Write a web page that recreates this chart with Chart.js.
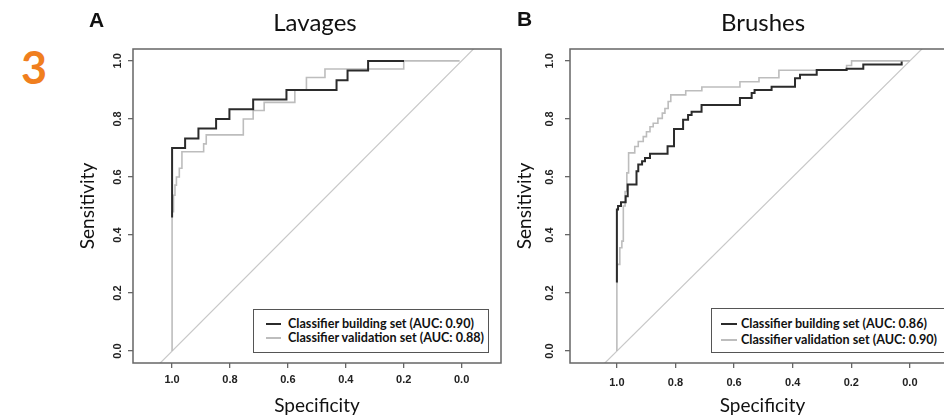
<!DOCTYPE html>
<html>
<head>
<meta charset="utf-8">
<script src="https://cdn.jsdelivr.net/npm/chart.js@4.4.1/dist/chart.umd.min.js"></script>
<style>
  body { margin: 0; width: 944px; height: 417px; overflow: hidden; background: #fff; position: relative; font-family: Lato, sans-serif; }
  canvas { position: absolute; top: 0; }
  .txt { position: absolute; white-space: nowrap; }
  .legend { position: absolute; box-sizing: border-box; border: 1.5px solid #555; background: #fff; }
  .row { position: absolute; height: 16px; line-height: 16px; font: 700 12.6px Lato, sans-serif; color: #111; white-space: nowrap; }
  .swatch { position: absolute; height: 2px; }
</style>
</head>
<body>
<div class="txt" style="left:21px;top:45px;font:700 45px/45px Lato;color:#f07f1e;">3</div>
<canvas id="chartA" width="510" height="417" style="left:0"></canvas>
<canvas id="chartB" width="525" height="417" style="left:440px"></canvas>
<script>
// panel labels and legend text
const panelTitles = ['Lavages', 'Brushes'];
const panelLetters = ['A', 'B'];
const seriesNames = ['Classifier building set', 'Classifier validation set'];
const aucLavages = [0.90, 0.88];
const aucBrushes = [0.86, 0.90];

// axis ticks
const xTicks = [1.0, 0.8, 0.6, 0.4, 0.2, 0.0];
const yTicks = [0.0, 0.2, 0.4, 0.6, 0.8, 1.0];

// chance diagonal (clipped by the plot area)
const chanceSpec = [1.3, -0.3];
const chanceSens = [-0.3, 1.3];

// Lavages ROC curves (specificity, sensitivity)
const lavBuildSpec = [1.0, 1.0, 0.955, 0.955, 0.909, 0.909, 0.848, 0.848, 0.802, 0.802, 0.72, 0.72, 0.605, 0.605, 0.432, 0.432, 0.394, 0.394, 0.323, 0.323, 0.199];
const lavBuildSens = [0.46, 0.70, 0.70, 0.733, 0.733, 0.767, 0.767, 0.80, 0.80, 0.833, 0.833, 0.867, 0.867, 0.90, 0.90, 0.933, 0.933, 0.967, 0.967, 1.0, 1.0];
const lavValidSpec = [1.0, 1.0, 0.995, 0.995, 0.99, 0.99, 0.985, 0.985, 0.975, 0.975, 0.966, 0.966, 0.891, 0.891, 0.882, 0.882, 0.754, 0.754, 0.72, 0.72, 0.682, 0.682, 0.576, 0.576, 0.536, 0.536, 0.472, 0.472, 0.20, 0.20, 0.007];
const lavValidSens = [0.0, 0.48, 0.48, 0.537, 0.537, 0.572, 0.572, 0.60, 0.60, 0.63, 0.63, 0.687, 0.687, 0.714, 0.714, 0.745, 0.745, 0.80, 0.80, 0.829, 0.829, 0.857, 0.857, 0.90, 0.90, 0.943, 0.943, 0.972, 0.972, 1.0, 1.0];

// Brushes ROC curves
const bruBuildSpec = [1.0, 1.0, 0.996, 0.996, 0.986, 0.986, 0.97, 0.97, 0.963, 0.963, 0.933, 0.933, 0.927, 0.927, 0.914, 0.914, 0.904, 0.904, 0.887, 0.887, 0.827, 0.827, 0.805, 0.805, 0.774, 0.774, 0.757, 0.757, 0.745, 0.745, 0.711, 0.711, 0.58, 0.58, 0.54, 0.54, 0.53, 0.53, 0.472, 0.472, 0.392, 0.392, 0.375, 0.375, 0.318, 0.318, 0.216, 0.216, 0.159, 0.159, 0.028, 0.028];
const bruBuildSens = [0.236, 0.488, 0.488, 0.50, 0.50, 0.513, 0.513, 0.534, 0.534, 0.574, 0.574, 0.62, 0.62, 0.643, 0.643, 0.654, 0.654, 0.665, 0.665, 0.68, 0.68, 0.706, 0.706, 0.765, 0.765, 0.797, 0.797, 0.814, 0.814, 0.825, 0.825, 0.848, 0.848, 0.872, 0.872, 0.889, 0.889, 0.90, 0.90, 0.911, 0.911, 0.94, 0.94, 0.952, 0.952, 0.969, 0.969, 0.973, 0.973, 0.988, 0.988, 0.998];
const bruValidSpec = [1.0, 1.0, 0.999, 0.999, 0.99, 0.99, 0.983, 0.983, 0.978, 0.978, 0.972, 0.972, 0.966, 0.966, 0.96, 0.96, 0.939, 0.939, 0.927, 0.927, 0.91, 0.91, 0.899, 0.899, 0.887, 0.887, 0.876, 0.876, 0.86, 0.86, 0.845, 0.845, 0.836, 0.836, 0.825, 0.825, 0.816, 0.816, 0.765, 0.765, 0.71, 0.71, 0.58, 0.58, 0.515, 0.515, 0.447, 0.447, 0.216, 0.216, 0.199, 0.199, 0.0];
const bruValidSens = [0.0, 0.236, 0.236, 0.299, 0.299, 0.356, 0.356, 0.379, 0.379, 0.50, 0.50, 0.55, 0.55, 0.614, 0.614, 0.683, 0.683, 0.705, 0.705, 0.722, 0.722, 0.739, 0.739, 0.756, 0.756, 0.773, 0.773, 0.785, 0.785, 0.802, 0.802, 0.82, 0.82, 0.836, 0.836, 0.86, 0.86, 0.883, 0.883, 0.897, 0.897, 0.91, 0.91, 0.928, 0.928, 0.942, 0.942, 0.968, 0.968, 0.984, 0.984, 1.0, 1.0];

const darkCol = '#2b2b2b';
const lightCol = '#bdbdbd';
const chanceCol = '#c8c8c8';
const frameCol = '#666';

function toPoints(xs, ys) {
    return xs.map((x, i) => ({ x: x, y: ys[i] }));
}

// draws the full box round the plot area, like R's box()
const framePlugin = {
    id: 'frame',
    afterDraw(chart) {
        const a = chart.chartArea;
        const ctx = chart.ctx;
        ctx.save();
        ctx.strokeStyle = frameCol;
        ctx.lineWidth = 1.5;
        ctx.strokeRect(a.left, a.top, a.right - a.left, a.bottom - a.top);
        ctx.restore();
    }
};

const tickFont = { family: '"Liberation Sans", Arial, sans-serif', weight: 'bold', size: 11 };

function makePanel(canvasId, p, build, valid) {
    const ctx = document.getElementById(canvasId).getContext('2d');
    return new Chart(ctx, {
        type: 'line',
        data: {
            datasets: [
                { label: seriesNames[0], data: toPoints(build[0], build[1]), borderColor: darkCol, borderWidth: 2 },
                { label: seriesNames[1], data: toPoints(valid[0], valid[1]), borderColor: lightCol, borderWidth: 1.6 },
                { label: 'chance', data: toPoints(chanceSpec, chanceSens), borderColor: chanceCol, borderWidth: 1.2 }
            ]
        },
        options: {
            responsive: false,
            animation: false,
            elements: { point: { radius: 0 }, line: { tension: 0 } },
            layout: { padding: { top: 49, right: p.rightPad, left: 0, bottom: 0 } },
            plugins: { legend: { display: false }, tooltip: { enabled: false } },
            scales: {
                x: {
                    type: 'linear', reverse: true, min: p.xMin, max: p.xMax,
                    afterBuildTicks: s => { s.ticks = xTicks.map(v => ({ value: v })); },
                    afterFit: s => { s.height = 54; },
                    border: { display: false },
                    grid: { drawOnChartArea: false, tickLength: 5, color: frameCol, lineWidth: 1.3 },
                    ticks: { autoSkip: false, maxRotation: 0, padding: p.xTickPad, color: '#222',
                             font: tickFont, callback: v => v.toFixed(1) },
                    title: { display: true, text: 'Specificity', color: '#111',
                             font: { family: 'Lato', size: 19 }, padding: { top: 0, bottom: 0 } }
                },
                y: {
                    type: 'linear', min: -0.041, max: 1.041,
                    afterBuildTicks: s => { s.ticks = yTicks.map(v => ({ value: v })); },
                    afterFit: s => { s.width = p.yAxisW; },
                    border: { display: false },
                    grid: { drawOnChartArea: false, tickLength: 5, color: frameCol, lineWidth: 1.3 },
                    ticks: { autoSkip: false, minRotation: 90, maxRotation: 90, crossAlign: 'center',
                             padding: p.yTickPad, color: '#222',
                             font: tickFont, callback: v => v.toFixed(1) },
                    title: { display: true, text: 'Sensitivity', color: '#111',
                             font: { family: 'Lato', size: 19 }, padding: { top: p.yTitlePad, bottom: 0 } }
                }
            }
        },
        plugins: [framePlugin]
    });
}

function addText(text, style) {
    const d = document.createElement('div');
    d.className = 'txt';
    d.textContent = text;
    d.setAttribute('style', style);
    document.body.appendChild(d);
}

function addLegend(box, auc) {
    const lg = document.createElement('div');
    lg.className = 'legend';
    lg.style.cssText = `left:${box.left}px;top:${box.top}px;width:${box.w}px;height:${box.h}px;`;
    [darkCol, lightCol].forEach((col, i) => {
        const row = document.createElement('div');
        row.className = 'row';
        row.style.cssText = `left:${box.textX}px;top:${box.rows[i] - 8}px;`;
        row.textContent = `${seriesNames[i]} (AUC: ${auc[i].toFixed(2)})`;
        const sw = document.createElement('div');
        sw.className = 'swatch';
        sw.style.cssText = `left:${box.swX}px;width:${box.swW}px;top:${box.rows[i] - 1}px;background:${col};`;
        lg.appendChild(sw);
        lg.appendChild(row);
    });
    document.body.appendChild(lg);
}

makePanel('chartA', { rightPad: 9, xMin: -0.136, xMax: 1.135, xTickPad: 5, yAxisW: 133, yTickPad: 2.5, yTitlePad: 76.6 },
    [lavBuildSpec, lavBuildSens], [lavValidSpec, lavValidSens]);
makePanel('chartB', { rightPad: 10, xMin: -0.154, xMax: 1.160, xTickPad: 8, yAxisW: 130, yTickPad: 7.5, yTitlePad: 73.6 },
    [bruBuildSpec, bruBuildSens], [bruValidSpec, bruValidSens]);

addText(panelTitles[0], 'left:215px;width:200px;text-align:center;top:10px;font:400 24px/24px Lato;color:#111;');
addText(panelTitles[1], 'left:663px;width:200px;text-align:center;top:10px;font:400 24px/24px Lato;color:#111;');
addText(panelLetters[0], 'left:89px;top:9px;font:700 21px/21px "Liberation Sans", Arial;color:#111;');
addText(panelLetters[1], 'left:517px;top:8px;font:700 21px/21px "Liberation Sans", Arial;color:#111;');

addLegend({ left: 253, top: 309, w: 236, h: 44, swX: 12, swW: 15, textX: 34, rows: [14, 28] }, aucLavages);
addLegend({ left: 711, top: 308, w: 234, h: 45, swX: 9, swW: 16, textX: 29, rows: [15, 31] }, aucBrushes);
</script>
</body>
</html>
